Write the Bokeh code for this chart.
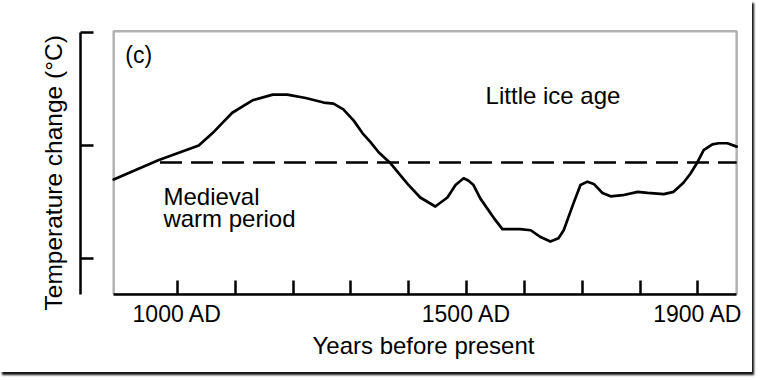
import math
from bokeh.plotting import figure
from bokeh.models import Range1d, FixedTicker, BoxAnnotation, Label, Title
from bokeh.embed import file_html
from bokeh.resources import INLINE

# ---- data ----
YEARS = [890, 967, 1037, 1061, 1078, 1095, 1130, 1165, 1190, 1222, 1253, 1270,
         1287, 1305, 1320, 1334, 1348, 1369, 1398, 1420, 1446, 1467, 1481, 1495,
         1503, 1512, 1524, 1547, 1562, 1579, 1593, 1611, 1628, 1645, 1659, 1668,
         1685, 1697, 1709, 1720, 1735, 1749, 1770, 1796, 1813, 1841, 1858, 1875,
         1887, 1899, 1910, 1925, 1936, 1951, 1967]
TEMP = [-0.30, -0.13, 0.00, 0.11, 0.20, 0.29, 0.40, 0.45, 0.45, 0.42, 0.38, 0.37,
        0.32, 0.22, 0.11, 0.03, -0.06, -0.16, -0.34, -0.46, -0.54, -0.46, -0.35, -0.29,
        -0.31, -0.35, -0.47, -0.64, -0.74, -0.74, -0.74, -0.75, -0.81, -0.85, -0.82, -0.75,
        -0.51, -0.35, -0.32, -0.34, -0.42, -0.45, -0.44, -0.41, -0.42, -0.43, -0.41, -0.33,
        -0.25, -0.15, -0.04, 0.01, 0.02, 0.02, -0.01]
BASE_LEVEL = -0.15          # dashed reference level
BASE_START = 970            # year where dashed line begins
TICK_YEARS = [1000, 1100, 1200, 1300, 1400, 1500, 1600, 1700, 1800, 1900]
TICK_LABELS = {1000: "1000 AD", 1500: "1500 AD", 1900: "1900 AD"}
Y_TICKS = [-1, 0, 1]

FONT = "Liberation Sans"

p = figure(width=752, height=372, output_backend="svg", toolbar_location=None,
           x_range=Range1d(832.6, 1970.2), y_range=Range1d(-1.3186, 1.0354),
           min_border_left=80, min_border_right=14, min_border_top=28,
           min_border_bottom=78)
p.outline_line_color = None
p.xgrid.visible = False
p.ygrid.visible = False
p.background_fill_color = "white"
p.border_fill_color = "white"
p.styles = {"box-shadow": "2px 3px 2px #111"}

# bottom axis
xa = p.xaxis[0]
xa.ticker = FixedTicker(ticks=TICK_YEARS)
xa.major_label_overrides = {y: TICK_LABELS.get(y, "") for y in TICK_YEARS}
xa.bounds = (YEARS[0], YEARS[-1])
xa.axis_line_width = 2.5
xa.axis_line_color = "black"
xa.major_tick_in = 14
xa.major_tick_out = 0
xa.major_tick_line_width = 2.5
xa.major_tick_line_color = "black"
xa.minor_tick_line_color = None
xa.major_label_text_font = FONT
xa.major_label_text_font_size = "23px"
xa.major_label_text_color = "black"
xa.major_label_text_line_height = 1.0
xa.major_label_standoff = 6

# left (detached-looking) axis
ya = p.yaxis[0]
ya.ticker = FixedTicker(ticks=Y_TICKS)
ya.major_label_overrides = {t: "" for t in Y_TICKS}
ya.bounds = (-1.3186, 1.0)
ya.axis_line_width = 2.5
ya.axis_line_color = "black"
ya.major_tick_in = 13
ya.major_tick_out = 0
ya.major_tick_line_width = 2.5
ya.major_tick_line_color = "black"
ya.minor_tick_line_color = None
ya.major_label_text_font_size = "0px"
ya.major_label_standoff = 0

# axis titles, placed as in the reference
p.add_layout(Title(text="Years before present", align="left", offset=232,
                   text_font=FONT, text_font_size="24px", text_font_style="normal",
                   text_color="black", standoff=0, text_line_height=0.9), "below")
p.add_layout(Title(text="Temperature change (°C)", align="left", offset=-16,
                   text_font=FONT, text_font_size="24.5px", text_font_style="normal",
                   text_color="black", standoff=28), "left")

# plot box (top, left and right sides)
p.add_layout(BoxAnnotation(left=YEARS[0], right=YEARS[-1], top=1.01, bottom=-1.3186,
                           fill_color=None, fill_alpha=0, line_color="black",
                           line_width=2.5))

# dashed reference line
p.line([BASE_START, YEARS[-1]], [BASE_LEVEL, BASE_LEVEL], line_color="black",
       line_width=2.5, line_dash="22 9")

# temperature curve
p.line(YEARS, TEMP, line_color="black", line_width=2.7, line_join="round",
       line_cap="round")

def lab(text, x, y, size="24px", align="left", baseline="middle", angle=0.0):
    p.add_layout(Label(x=x, y=y, text=text, text_font=FONT, text_font_size=size,
                       text_color="black", text_align=align,
                       text_baseline=baseline, angle=angle))

lab("(c)", 910, 0.805, size="23px")
lab("Little ice age", 1533, 0.442)
lab("Medieval", 976, -0.451, baseline="alphabetic")
lab("warm period", 976, -0.646, baseline="alphabetic")

open("out.html", "w").write(file_html(p, INLINE))
